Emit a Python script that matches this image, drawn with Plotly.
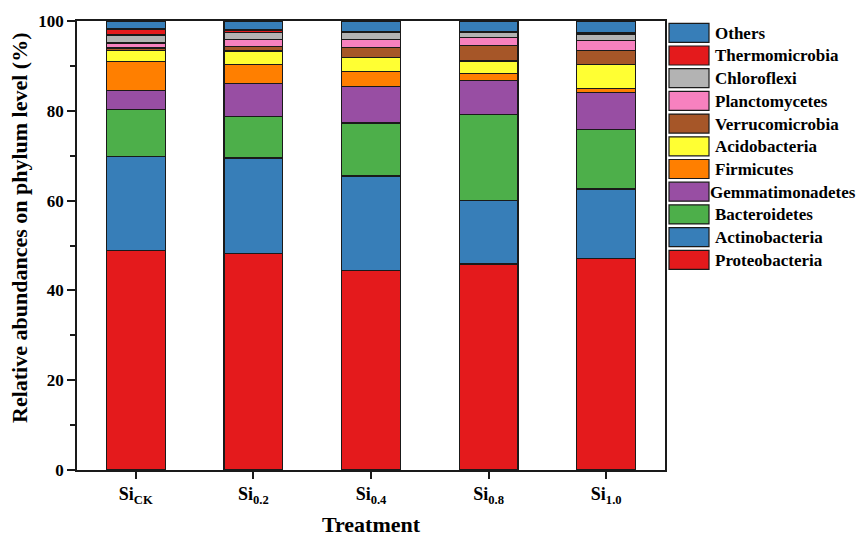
import plotly.graph_objects as go

treatments = ["Si<sub>CK</sub>", "Si<sub>0.2</sub>", "Si<sub>0.4</sub>", "Si<sub>0.8</sub>", "Si<sub>1.0</sub>"]

Proteobacteria   = [48.9, 48.3, 44.5, 45.9, 47.1]
Actinobacteria   = [20.9, 21.2, 21.0, 14.1, 15.5]
Bacteroidetes    = [10.5,  9.3, 11.8, 19.1, 13.3]
Gemmatimonadetes = [ 4.3,  7.2,  8.1,  7.6,  8.2]
Firmicutes       = [ 6.4,  4.4,  3.3,  1.6,  0.9]
Acidobacteria    = [ 2.5,  2.9,  3.2,  2.8,  5.4]
Verrucomicrobia  = [ 0.5,  1.1,  2.2,  3.4,  3.1]
Planctomycetes   = [ 1.1,  1.5,  1.7,  1.9,  2.1]
Chloroflexi      = [ 1.8,  1.6,  1.6,  1.0,  1.5]
Thermomicrobia   = [ 1.3,  0.5,  0.3,  0.3,  0.3]
Others           = [ 1.8,  2.0,  2.3,  2.3,  2.6]

series = [
    ("Proteobacteria", Proteobacteria, "#E41A1C"),
    ("Actinobacteria", Actinobacteria, "#377EB8"),
    ("Bacteroidetes", Bacteroidetes, "#4DAF4A"),
    ("Gemmatimonadetes", Gemmatimonadetes, "#984EA3"),
    ("Firmicutes", Firmicutes, "#FF7F00"),
    ("Acidobacteria", Acidobacteria, "#FFFF33"),
    ("Verrucomicrobia", Verrucomicrobia, "#A65628"),
    ("Planctomycetes", Planctomycetes, "#F781BF"),
    ("Chloroflexi", Chloroflexi, "#B3B3B3"),
    ("Thermomicrobia", Thermomicrobia, "#E41A1C"),
    ("Others", Others, "#377EB8"),
]

FONT = "Liberation Serif, Times New Roman, serif"

fig = go.Figure()
for name, vals, col in series:
    fig.add_trace(go.Bar(
        x=treatments, y=vals, name=name,
        marker=dict(color=col, line=dict(color="#1a1a1a", width=1.2)),
        width=0.5, showlegend=False,
    ))

# the page body has an 8px margin; size the figure to the remaining window
OFF = 8
W, H = 865 - OFF, 537 - OFF
ml, mr, mt, mb = 77 - OFF, 200, 21 - OFF, 67
pw = W - ml - mr
ph = H - mt - mb

def px_to_paper_x(px):  # px in window coordinates
    return (px - OFF - ml) / pw

def px_to_paper_y(py):
    return 1 - (py - OFF - mt) / ph

shapes = []
annotations = []
for i, (name, vals, col) in enumerate(reversed(series)):
    top = 23.3 + i * 22.7
    bot = top + 19
    shapes.append(dict(
        type="rect", xref="paper", yref="paper",
        x0=px_to_paper_x(669), x1=px_to_paper_x(709),
        y0=px_to_paper_y(bot), y1=px_to_paper_y(top),
        fillcolor=col, line=dict(color="#1a1a1a", width=1.2),
    ))
    annotations.append(dict(
        xref="paper", yref="paper",
        x=px_to_paper_x(708 if name == "Gemmatimonadetes" else 713),
        y=px_to_paper_y((top + bot) / 2 + 0.5),
        text=name, showarrow=False, xanchor="left", yanchor="middle",
        font=dict(family=FONT, size=17, color="black", weight="bold"),
    ))

# y-axis title (slightly above the plot centre, as in the reference)
annotations.append(dict(
    xref="paper", yref="paper",
    x=px_to_paper_x(19), y=px_to_paper_y(228),
    text="Relative abundances on phylum level (%)", textangle=-90,
    showarrow=False, xanchor="center", yanchor="middle",
    font=dict(family=FONT, size=22, color="black", weight="bold"),
))

fig.update_layout(
    width=W, height=H,
    margin=dict(l=ml, r=mr, t=mt, b=mb, autoexpand=False),
    barmode="stack",
    plot_bgcolor="white", paper_bgcolor="white",
    font=dict(family=FONT, color="black"),
    shapes=shapes, annotations=annotations,
    showlegend=False,
    xaxis=dict(
        automargin=False,
        showline=True, linecolor="#1a1a1a", linewidth=1.5, mirror=True,
        ticks="outside", ticklen=7, tickwidth=1.5, tickcolor="#1a1a1a",
        tickfont=dict(family=FONT, size=18, color="black", weight="bold"),
        title=dict(text="Treatment", standoff=14,
                   font=dict(family=FONT, size=22, color="black", weight="bold")),
        showgrid=False,
    ),
    yaxis=dict(
        automargin=False,
        range=[0, 100], tickvals=[0, 20, 40, 60, 80, 100],
        showline=True, linecolor="#1a1a1a", linewidth=1.5, mirror=True,
        ticks="outside", ticklen=8, tickwidth=1.5, tickcolor="#1a1a1a",
        minor=dict(tickvals=[10, 30, 50, 70, 90], ticks="outside", ticklen=5,
                   tickwidth=1.5, tickcolor="#1a1a1a"),
        tickfont=dict(family=FONT, size=17, color="black", weight="bold"),
        showgrid=False, zeroline=False,
    ),
)

fig.write_html("out.html")
